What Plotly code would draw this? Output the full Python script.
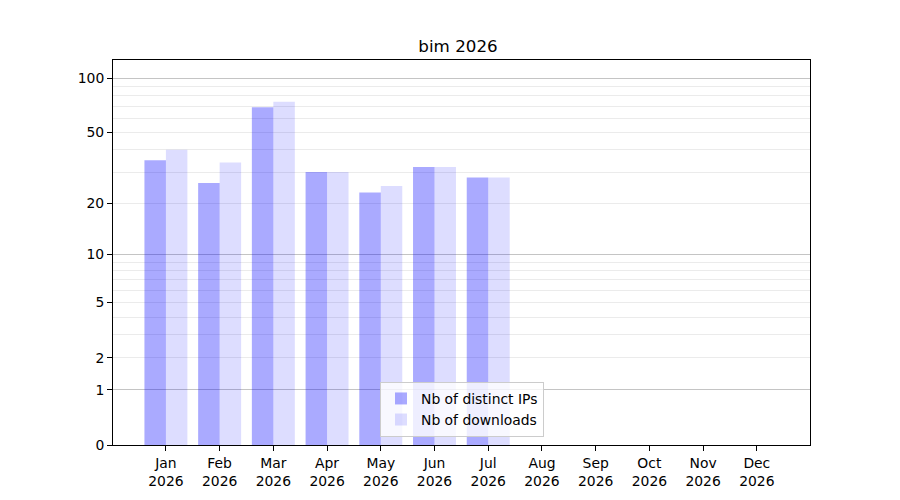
import numpy as np
import plotly.graph_objects as go

months = ["Jan", "Feb", "Mar", "Apr", "May", "Jun", "Jul", "Aug", "Sep", "Oct", "Nov", "Dec"]
year = "2026"
distinct_ips = [35, 26, 69, 30, 23, 32, 28, 0, 0, 0, 0, 0]
downloads = [40, 34, 74, 30, 25, 32, 28, 0, 0, 0, 0, 0]
y_labels = [0, 1, 2, 5, 10, 20, 50, 100]
y_major_grid = [1, 10, 100]
y_minor_grid = [3, 4, 6, 7, 8, 9, 30, 40, 60, 70, 80, 90]
y_top = 126


def tr(v):
    # log(1 + x) scale
    return np.log10(1 + np.asarray(v, dtype=float))


xlabels = [f"{m}<br>{year}" for m in months]
font = dict(family="DejaVu Sans", size=13.9, color="black")

fig = go.Figure()
fig.add_trace(go.Bar(x=xlabels, y=tr(distinct_ips), name="Nb of distinct IPs",
                     marker=dict(color="rgba(0,0,255,0.333)", line=dict(width=0)),
                     hovertext=distinct_ips))
fig.add_trace(go.Bar(x=xlabels, y=tr(downloads), name="Nb of downloads",
                     marker=dict(color="rgba(0,0,255,0.133)", line=dict(width=0)),
                     hovertext=downloads))
# empty trace so the overlay axis (dark grid) is drawn
fig.add_trace(go.Scatter(x=[], y=[], yaxis="y2", showlegend=False))

yrange = [0, float(tr(y_top))]
fig.update_layout(
    width=900, height=500,
    margin=dict(l=104.5, r=98, t=52, b=63),
    paper_bgcolor="white", plot_bgcolor="white",
    font=font,
    title=dict(text="bim 2026", x=0.5, xanchor="center", y=0.924, yanchor="middle",
               font=dict(family="DejaVu Sans", size=16.7, color="black")),
    barmode="group", bargap=0.2, bargroupgap=0,
    xaxis=dict(range=[-0.985, 11.99], showgrid=False, ticks="outside", ticklen=5,
               tickcolor="black", linecolor="black", linewidth=1, mirror=True,
               tickfont=font),
    yaxis=dict(range=yrange, tickmode="array", tickvals=tr(y_labels),
               ticktext=[str(v) for v in y_labels], ticks="outside", ticklen=5,
               tickcolor="black", linecolor="black", linewidth=1, mirror=True,
               showgrid=True, gridcolor="#ebebeb", gridwidth=1, zeroline=False,
               minor=dict(tickmode="array", tickvals=tr(y_minor_grid), showgrid=True,
                          gridcolor="#ebebeb", gridwidth=1, ticklen=0),
               tickfont=font),
    yaxis2=dict(range=yrange, overlaying="y", tickmode="array", tickvals=tr(y_major_grid),
                showticklabels=False, ticks="", showgrid=True, gridcolor="#c4c4c4",
                gridwidth=1, zeroline=False, showline=False),
    legend=dict(x=0.5007, xanchor="center", y=0.021, yanchor="bottom",
                bgcolor="rgba(255,255,255,0.8)", bordercolor="#cccccc", borderwidth=1,
                font=font, tracegroupgap=0),
    showlegend=True,
)

fig.write_html("out.html")
